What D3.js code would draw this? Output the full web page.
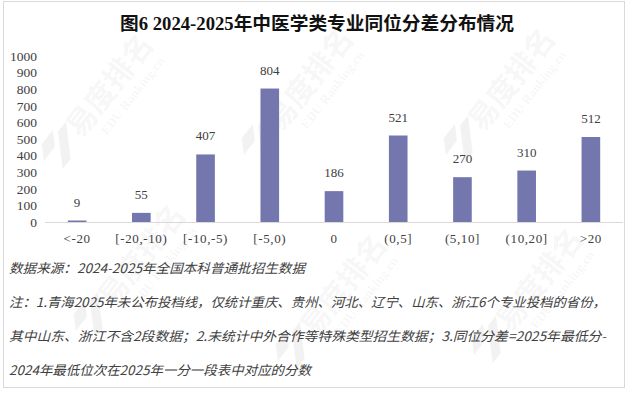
<!DOCTYPE html>
<html>
<head>
<meta charset="utf-8">
<script src="https://cdn.jsdelivr.net/npm/d3@7"></script>
<style>
	body { margin:0; background:#ffffff; }
	svg { display:block; }
</style>
</head>
<body>
<div id="chart"></div>
<script>

// --------------------------------
// data
// --------------------------------

var categories = ["<-20", "[-20,-10)", "[-10,-5)", "[-5,0)", "0", "(0,5]", "(5,10]", "(10,20]", ">20"];
var counts = [9, 55, 407, 804, 186, 521, 270, 310, 512];
var yTicks = [0, 100, 200, 300, 400, 500, 600, 700, 800, 900, 1000];

var szTitle = "图6  2024-2025年中医学类专业同位分差分布情况";
var notes = [
	"数据来源：2024-2025年全国本科普通批招生数据",
	"注：1.青海2025年未公布投档线，仅统计重庆、贵州、河北、辽宁、山东、浙江6个专业投档的省份，",
	"其中山东、浙江不含2段数据；2.未统计中外合作等特殊类型招生数据；3.同位分差=2025年最低分-",
	"2024年最低位次在2025年一分一段表中对应的分数"
];

// --------------------------------
// layout
// --------------------------------

var W = 635, H = 397;
var szSerif = "'Liberation Serif','Times New Roman',serif";
var szCJK = "'Noto Sans CJK SC','Liberation Serif',serif";
var szBarColor = "#7477ae";

var svg = d3.select("#chart").append("svg")
	.attr("width", W)
	.attr("height", H);

// outer frame
svg.append("rect")
	.attr("x", 3.5).attr("y", 1.5)
	.attr("width", 621).attr("height", 386)
	.attr("style", "fill:#ffffff;stroke:#d9d9d9;stroke-width:1");

// --------------------------------
// faint watermark
// --------------------------------

var wmarks = [[118, 92], [318, 86], [520, 86], [150, 262], [352, 292], [548, 286]];
wmarks.forEach(function(p){
	var g = svg.append("g")
		.attr("transform", "translate(" + p[0] + "," + p[1] + ") rotate(-52)");
	g.append("text")
		.attr("x", 0).attr("y", 0)
		.attr("style", "font-family:" + szCJK + ";font-weight:bold;font-size:30px;text-anchor:middle;fill:#000;fill-opacity:0.055")
		.text("易度排名");
	g.append("text")
		.attr("x", 6).attr("y", 18)
		.attr("style", "font-family:" + szSerif + ";font-weight:bold;font-size:13px;text-anchor:middle;fill:#000;fill-opacity:0.05")
		.text("EDU Ranking.cn");
	g.append("path")
		.attr("d", "M-100,-16 l12,-12 l18,0 l-12,12 z M-95,4 l27,-27 l13,0 l-27,27 z")
		.attr("style", "fill:#000;fill-opacity:0.05");
});

// --------------------------------
// scales
// --------------------------------

var x = d3.scaleBand()
	.domain(categories)
	.range([45, 623])
	.paddingInner(0.71)
	.paddingOuter(0.355);

var y = d3.scaleLinear()
	.domain([0, 1000])
	.range([222, 56]);

// y axis labels (no line, no ticks)
var yAxis = svg.append("g")
	.attr("transform", "translate(37,0)")
	.call(d3.axisLeft(y).tickValues(yTicks).tickSize(0).tickPadding(0).tickFormat(d3.format("d")));
yAxis.select(".domain").remove();
yAxis.selectAll("text")
	.attr("style", "font-family:" + szSerif + ";font-size:13.5px;fill:#404040");

// x axis baseline and labels
var xAxis = svg.append("g")
	.attr("transform", "translate(0," + y(0) + ")")
	.call(d3.axisBottom(x).tickSize(0).tickPadding(12));
xAxis.select(".domain")
	.attr("d", "M45,0.5H623")
	.attr("style", "stroke:#d9d9d9;stroke-width:1");
xAxis.selectAll("text")
	.attr("style", "font-family:" + szSerif + ";font-size:13px;fill:#404040;letter-spacing:0.6px");

// --------------------------------
// bars + value labels
// --------------------------------

svg.selectAll("rect.bar")
	.data(counts)
	.enter().append("rect")
	.attr("class", "bar")
	.attr("x", function(d, i){ return x(categories[i]); })
	.attr("y", function(d){ return y(d); })
	.attr("width", x.bandwidth())
	.attr("height", function(d){ return y(0) - y(d); })
	.attr("fill", szBarColor);

svg.selectAll("text.val")
	.data(counts)
	.enter().append("text")
	.attr("class", "val")
	.attr("x", function(d, i){ return x(categories[i]) + x.bandwidth() / 2; })
	.attr("y", function(d){ return y(d) - 14; })
	.attr("style", "font-family:" + szSerif + ";font-size:13px;text-anchor:middle;fill:#404040")
	.text(function(d){ return d; });

// --------------------------------
// title and notes
// --------------------------------

svg.append("text")
	.attr("x", 120).attr("y", 30)
	.attr("textLength", 394)
	.attr("lengthAdjust", "spacingAndGlyphs")
	.attr("style", "font-family:" + szSerif + ",'Noto Sans CJK SC';font-weight:bold;font-size:18px;fill:#111111")
	.text(szTitle);

var noteY = [273, 307, 341, 375];
var noteLen = [296, 597, 597, 302];
notes.forEach(function(s, i){
	svg.append("text")
		.attr("x", 9).attr("y", noteY[i])
		.attr("textLength", noteLen[i])
		.attr("lengthAdjust", "spacingAndGlyphs")
		.attr("style", "font-family:" + szCJK + ";font-style:italic;font-size:13px;fill:#404040")
		.text(s);
});

</script>
</body>
</html>
